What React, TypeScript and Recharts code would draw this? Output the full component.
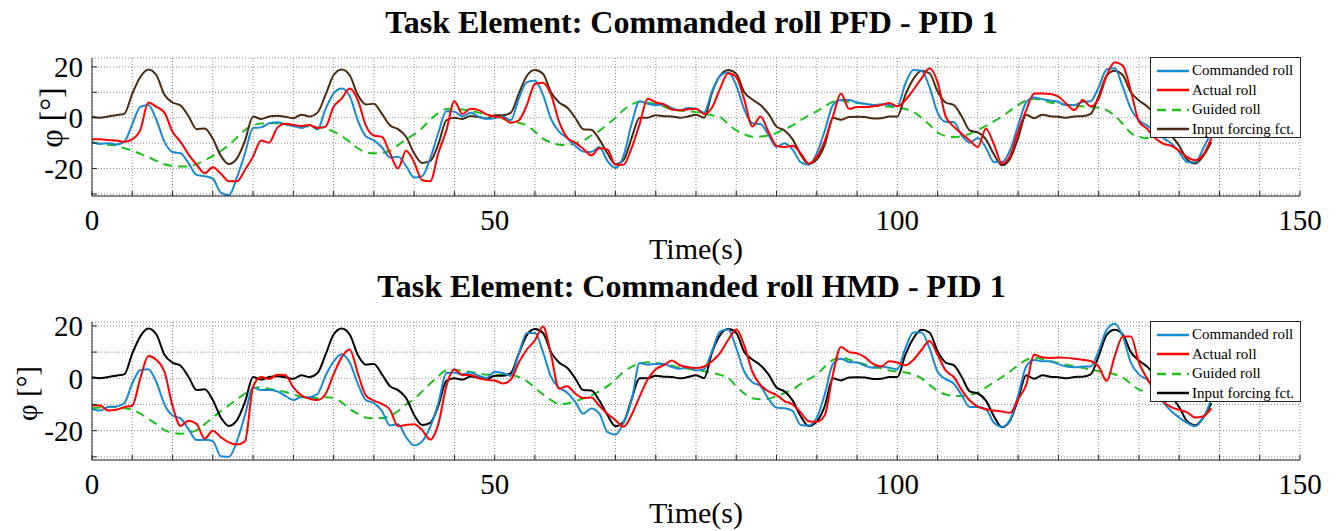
import { LineChart, Line, XAxis, YAxis, CartesianGrid, Legend } from "recharts";

const FONT = '"Liberation Serif", "Times New Roman", serif';

// samples every 1 s
const forcing = [
  0.4, 0, 0.5, 1, 1.5, 9.4, 16, 19, 16.7, 9,
  6, 4.8, 0.5, -4.5, -4.2, -8.3, -15, -18.2, -16, -9,
  0.5, -0.5, 0.5, 0.8, 0.4, -0.2, 1.2, 0.5, 2, 9,
  16.7, 19, 16.7, 9, 5.2, 5.5, 1.5, -3, -4.5, -7.5,
  -14, -17.8, -17, -10.5, -1, 0, -0.5, 0.7, 0.3, -0.3,
  1, 1, 2, 9.5, 16.5, 18.8, 17.3, 10, 6, 4,
  0, -4.5, -4.7, -8.5, -14, -18.3, -16.7, -8, 0, 0,
  1, 0.6, 0.5, 0, 0.5, 1.2, 0, 10, 16.6, 18.8,
  17.3, 10, 7.2, 5, 1.5, -3.5, -5, -8.5, -14.5, -18.2,
  -16.5, -10.5, 0, -0.8, 0.3, 0.4, 0.3, -0.3, -0.2, 0.5,
  0.5, 9, 15.3, 18.5, 17.5, 10.3, 6, 5, 0.5, -5,
  -5.8, -8.5, -14.5, -18.7, -16.1, -8, 1.2, -0.2, 1.2, 0.6,
  0.4, 0, 0.5, 0.6, 1.5, 8.5, 16.6, 18.5, 16.7, 10,
  6.8, 4.5, 1, -3, -7, -11, -16.5, -18, -15, -9.5,
];

const pfdCommanded = [
  -9.4, -10.3, -10, -10.5, -9.5, -2.5, 4.3, 5, -0.9, -9.5,
  -13.5, -14, -18, -22.5, -23, -24, -29.5, -30.5, -23.5, -14,
  -4, -3.8, -2.2, -1.8, -2.6, -3.3, -4, -2.9, -4.6, 3.5,
  9.5, 11.5, 8.5, -1, -7.3, -8.9, -11.6, -15.7, -15.4, -19,
  -23.5, -23, -16, -6, 2.5, 2.4, 0.5, 2, 0.5, -0.4,
  -0.2, 0.5, -1, 7.5, 14, 14.5, 9, -0.5, -5.5, -8,
  -11, -13.3, -13.5, -11.5, -17, -19.8, -15, -2.5, 6.5, 5.5,
  5, 5.2, 3.8, 3, 3.8, 3.5, 2, 10.5, 16.5, 17.9,
  12.7, 3.2, -2.2, -2.5, -6.8, -11.5, -10, -12.5, -17.5, -18.5,
  -14, -5, 5, 7, 7, 6, 5.5, 5, 5.3, 5,
  4.5, 13.5, 18.8, 18.5, 12, 2, -1.6, -1.7, -7, -9.8,
  -8, -11.8, -17.4, -17.4, -12.8, -3, 6, 8, 7.3, 6.8,
  6.2, 5, 5, 6.2, 6.5, 12, 19, 19.5, 12, 3.5,
  -1, -3, -5.5, -8, -10, -13.5, -17.5, -17.5, -12, -5.5,
];

const pfdActual = [
  -8.5, -8.5, -8.8, -9, -9.5, -8.5, -4.8, 6, 4.3, 2,
  -5.5, -9.5, -14.5, -18.5, -21.8, -19.5, -22, -25, -25, -20.5,
  -15.3, -9, -9.8, -4, -2.4, -2.8, -3.3, -2.9, -4, -3.5,
  4.3, 7.5, 11.5, 7, -3, -7, -7.5, -14, -20, -13,
  -17.5, -24.6, -25, -14, -5, 6.5, 1.5, 3.5, 3, 1.3,
  0.5, 0, -2, -1, 5, 13.3, 13.8, 9, -1.5, -7.8,
  -9.8, -12.2, -14.8, -12, -12.5, -18.5, -18.5, -12, -2.5, 7.5,
  6, 5.3, 3.2, 2.9, 3.3, 3.5, 1.5, 4, 11.5, 17.5,
  16, 7, -3.5, 0.5, -5.5, -11, -11.5, -11, -14, -18,
  -15.4, -9, 0.5, 9.5, 3.5, 4.2, 4.2, 4.5, 5, 5.8,
  4.5, 7, 11, 15.5, 19.5, 14, 0.5, -3.5, -6.3, -9,
  -11.5, -4.3, -10.5, -18, -15, -5.5, 3, 9.5, 9.5, 9.3,
  8.3, 5.5, 3, 7, 4.5, 7.5, 16.6, 21.8, 20.5, 10.5,
  -1.5, -4.3, -8, -10.2, -11, -13, -15.5, -16.7, -14.5, -8,
];

const pfdGuided = [
  -9.8, -10.2, -10.6, -11, -12, -13, -14.2, -15.5, -17, -18.3,
  -18.9, -19.2, -19.2, -18.2, -16.8, -15, -13, -10.8, -7.8, -4.8,
  -3, -2.3, -2.2, -2.2, -2.6, -3, -3.3, -3.5, -3.8, -4.2,
  -5.5, -7.2, -9.5, -12, -13.6, -14, -13.8, -13, -10.8, -8.5,
  -6.5, -4, -0.8, 1.8, 3.4, 3.5, 3.2, 2.6, 2, 1.2,
  0.5, -0.4, -1.1, -2, -3, -5.5, -8.2, -9.8, -10.6, -10.8,
  -10, -9, -7, -5.2, -2.6, 0, 3, 5.2, 6.3, 6,
  5.3, 4.4, 3.3, 2.8, 2.5, 2.2, 1.6, 1, 0.3, -2.5,
  -5, -6.5, -7.5, -7.4, -7, -6, -4.5, -3, -1, 1,
  2.5, 4.5, 6.3, 6.8, 6.2, 5.8, 5.5, 5, 4.6, 4.3,
  4, 3.4, 2.2, 0, -2.8, -5.8, -7.2, -7.6, -7.2, -6.3,
  -4.8, -3.2, -1.4, 0.5, 2.8, 5, 6.8, 7.5, 7, 6,
  5.5, 5, 4.8, 4.5, 4.2, 4, 3, 0.8, -2.5, -6,
  -7.5, -8, -8,
];

const hmdCommanded = [
  -11.7, -12.3, -11, -10.8, -9.5, -2, 3.2, 3.5, -1.5, -10,
  -14.2, -15.3, -19.5, -23.6, -23.5, -24, -29.8, -30, -24, -14,
  -3.5, -4.5, -4.5, -5, -6.7, -8.3, -7.2, -7.2, -6, 1,
  6.4, 9.2, 6, -2, -8.3, -9.5, -12.5, -18, -17.5, -22.5,
  -25.6, -24, -18.5, -9.5, 2, 2.2, 1.5, 2.2, 1, 0.1,
  2.5, 2, 1, 9.5, 17.3, 17.3, 10, 0.5, -3.5, -5.5,
  -9, -13.5, -11.5, -13.5, -20.5, -21.5, -17, -8.5, 5.8, 5.2,
  5.5, 5.5, 4.3, 3.6, 4.2, 3, 3.5, 10.5, 17.9, 18.6,
  11.5, 2.5, -1.5, -3, -7.8, -11.2, -11.4, -12.5, -17.8, -18,
  -15.1, -6, 5.5, 7.5, 6.2, 6, 4.8, 4, 4.5, 4,
  3.5, 11.5, 17.5, 17.5, 11.5, 2.5, -0.3, -2, -6.5, -11,
  -11, -11.8, -17, -18.5, -15.8, -6.5, 4.5, 7, 6.5, 6.5,
  5.4, 4.5, 4.2, 4.5, 4.5, 10.5, 18.5, 20.8, 16, 6,
  1.5, -0.5, -4, -9, -12.5, -15, -17, -18.3, -15, -8,
];

const hmdActual = [
  -10.4, -10.4, -12.3, -12, -11, -10.5, 0, 8.5, 7, 2.5,
  -10.5, -18.2, -16.2, -17.5, -23, -20, -22.5, -24.5, -25.3, -24,
  -3.2, 0.5, -0.3, 1.4, 1.3, -3.5, -6.5, -7.8, -8.3, -6,
  1.5, 8, 11, 2, -6.5, -8.5, -9.8, -12, -18.3, -17.8,
  -17.5, -19.8, -23.4, -17.5, -3, 3.5, 1.2, 1.3, 0, -0.6,
  -0.8, -2, -0.5, 6, 11, 14.5, 19.8, 9, -4, -3,
  -5.8, -7.5, -7.3, -10.5, -13.5, -16, -18.5, -14, -7, -0.5,
  3.5, 5, 6.8, 5, 4.2, 3.9, 4.5, 6.5, 9.7, 14.7,
  18.6, 12.5, 2.5, -2.5, -5, -6.4, -8.7, -10, -13, -16.4,
  -16.6, -14, 1.5, 12, 10, 9.5, 8, 5.5, 4.5, 6.5,
  6, 5, 7.1, 10.8, 14.2, 9, 3, 0.5, -4.5, -8.5,
  -10.8, -11.8, -12.3, -12.7, -13.2, -8, -2.5, 9, 8, 7.8,
  7.9, 7.8, 7.5, 7.1, 6.6, 4.5, -1, 8.5, 16, 16,
  6, 0, -5, -8.8, -11, -12, -13, -15, -14.5, -11.5,
];

const hmdGuided = [
  -11.4, -11.2, -10.9, -11, -11.4, -12, -13.5, -15.5, -17.5, -19.8,
  -20.8, -21.2, -20.8, -19.8, -17.5, -15, -12.5, -10.3, -8, -5.8,
  -3.8, -3.4, -4, -4.6, -5.2, -6.2, -7.1, -7.4, -7.5, -7.2,
  -7.5, -9.2, -11.7, -13.5, -15, -15.3, -15.2, -14.4, -12.5, -10,
  -7.8, -5, -2, 0.8, 3, 3.2, 2.9, 2.4, 1.9, 1.4,
  1.4, 1.4, 1.3, 0.5, -1.1, -3.6, -6.2, -8.3, -9.9, -9.6,
  -8.8, -7.6, -6.5, -5, -3, -0.5, 2.5, 4.4, 5.6, 6.1,
  5.9, 5.5, 4.8, 4.1, 3.6, 3.2, 2.7, 2.1, 1.3, 0.2,
  -3, -5.8, -7.6, -8, -7.8, -6.8, -5.6, -4.3, -2.1, -0.3,
  1.4, 4.5, 7, 8, 7.2, 6.2, 5.3, 4.5, 3.8, 3,
  2.6, 2.2, 1.5, 0, -2.5, -4.8, -6.2, -6.7, -6.8, -6.3,
  -5.5, -3.5, -1.5, 0.5, 2.6, 5, 7, 7.8, 7.4, 6.5,
  5.8, 5.2, 4.6, 4, 3.3, 2.7, 2.3, 1.5, 0.3, -2,
  -4.3, -5,
];

const xTicks = [0, 5, 10, 15, 20, 25, 30, 35, 40, 45, 50, 55, 60, 65, 70, 75, 80, 85, 90, 95, 100, 105, 110, 115, 120, 125, 130, 135, 140, 145, 150];
const xLabels = [0, 50, 100, 150];
const yTicks = [-30, -20, -10, 0, 10, 20];
const yLabels = [-20, 0, 20];

const SAMPLE_STEP = 1; // seconds

const COLORS = {
  commanded: "#1a8ad0",
  actual: "#ff0000",
  guided: "#1fbf1f",
  forcingPfd: "#4a2a12",
  forcingHmd: "#000000",
};

function buildRows(cmd: number[], act: number[], guide: number[]) {
  return forcing.map((f, i) => ({
    t: i * SAMPLE_STEP,
    cmd: cmd[i],
    act: act[i],
    guide: guide[i],
    force: f,
  }));
}

const pfdRows = buildRows(pfdCommanded, pfdActual, pfdGuided);
const hmdRows = buildRows(hmdCommanded, hmdActual, hmdGuided);

function LegendBox({ forceColor }: { forceColor: string }) {
  const items = [
    { name: "Commanded roll", color: COLORS.commanded, dash: undefined },
    { name: "Actual roll", color: COLORS.actual, dash: undefined },
    { name: "Guided roll", color: COLORS.guided, dash: "9 6" },
    { name: "Input forcing fct.", color: forceColor, dash: undefined },
  ];
  return (
    <div
      style={{
        boxSizing: "border-box",
        width: 151,
        height: 81,
        border: "1px solid #222",
        background: "#fff",
        paddingTop: 3,
        fontFamily: FONT,
        fontSize: 15,
        color: "#000",
      }}
    >
      {items.map((it) => (
        <div key={it.name} style={{ display: "flex", alignItems: "center", height: 19.5, whiteSpace: "nowrap" }}>
          <svg width={41} height={10} style={{ flex: "none" }}>
            <line x1={6} x2={38} y1={5} y2={5} stroke={it.color} strokeWidth={2.5} strokeDasharray={it.dash} />
          </svg>
          <span>{it.name}</span>
        </div>
      ))}
    </div>
  );
}

interface PanelProps {
  rows: any[];
  height: number;
  plotTop: number;
  plotBottom: number;
  domain: [number, number];
  forceColor: string;
  yLabelX: number;
  yLabelY: number;
  yLabelSize: number;
}

function Panel({ rows, height, plotTop, plotBottom, domain, forceColor, yLabelX, yLabelY, yLabelSize }: PanelProps) {
  const axisColor = "#262626";
  const tickFont = { fontSize: 29, fill: "#000", fontFamily: FONT };
  return (
    <LineChart width={1339} height={height} data={rows} margin={{ top: plotTop, right: 39, bottom: 0, left: 0 }}>
      <CartesianGrid stroke="#8c8c8c" strokeDasharray="1 2" />
      <XAxis
        dataKey="t"
        type="number"
        domain={[0, 150]}
        ticks={xTicks}
        interval={0}
        height={height - plotBottom}
        tickSize={-5}
        tickMargin={18}
        tick={tickFont}
        tickFormatter={(v: number) => (xLabels.includes(v) ? String(v) : "")}
        stroke={axisColor}
        label={{
          content: () => (
            <text x={696} y={plotBottom + 63} textAnchor="middle" fontFamily={FONT} fontSize={30} fill="#000">
              Time(s)
            </text>
          ),
        }}
      />
      <XAxis
        xAxisId="top"
        orientation="top"
        dataKey="t"
        type="number"
        domain={[0, 150]}
        ticks={xTicks}
        interval={0}
        height={0}
        tickSize={-5}
        tick={false}
        stroke={axisColor}
      />
      <YAxis
        type="number"
        domain={domain}
        allowDataOverflow
        ticks={yTicks}
        interval={0}
        width={92}
        tickSize={-5}
        tickMargin={14}
        tick={tickFont}
        tickFormatter={(v: number) => (yLabels.includes(v) ? String(v) : "")}
        stroke={axisColor}
        label={{
          content: () => (
            <text
              x={yLabelX}
              y={yLabelY}
              transform={`rotate(-90 ${yLabelX} ${yLabelY})`}
              textAnchor="middle"
              dominantBaseline="central"
              fontFamily={FONT}
              fontSize={yLabelSize}
              fill="#000"
            >
              φ [°]
            </text>
          ),
        }}
      />
      <YAxis
        yAxisId="right"
        orientation="right"
        type="number"
        domain={domain}
        allowDataOverflow
        ticks={yTicks}
        interval={0}
        width={0}
        tickSize={-5}
        tick={false}
        stroke={axisColor}
      />
      <Line type="monotone" dataKey="guide" stroke={COLORS.guided} strokeWidth={2} strokeDasharray="9 6" dot={false} activeDot={false} isAnimationActive={false} />
      <Line type="monotone" dataKey="force" stroke={forceColor} strokeWidth={2} dot={false} activeDot={false} isAnimationActive={false} />
      <Line type="monotone" dataKey="cmd" stroke={COLORS.commanded} strokeWidth={2} dot={false} activeDot={false} isAnimationActive={false} />
      <Line type="monotone" dataKey="act" stroke={COLORS.actual} strokeWidth={2} dot={false} activeDot={false} isAnimationActive={false} />
      <Legend
        layout="vertical"
        align="center"
        verticalAlign="middle"
        wrapperStyle={{ left: 1150, top: plotTop - 1, width: 151, height: 81 }}
        content={() => <LegendBox forceColor={forceColor} />}
      />
    </LineChart>
  );
}

const titleStyle = (top: number): React.CSSProperties => ({
  position: "absolute",
  top,
  left: 0,
  width: 1383,
  textAlign: "center",
  fontFamily: FONT,
  fontWeight: "bold",
  fontSize: 32,
  lineHeight: "32px",
  color: "#000",
  whiteSpace: "nowrap",
});

export default function App() {
  return (
    <div style={{ position: "fixed", left: 0, top: 0, width: 1339, height: 531, background: "#fff", overflow: "hidden" }}>
      <div style={{ position: "absolute", left: 0, top: 0 }}>
        <Panel
          rows={pfdRows}
          height={265}
          plotTop={58}
          plotBottom={196}
          domain={[-30.8, 23.5]}
          forceColor={COLORS.forcingPfd}
          yLabelX={51}
          yLabelY={117.5}
          yLabelSize={32}
        />
      </div>
      <div style={{ position: "absolute", left: 0, top: 265 }}>
        <Panel
          rows={hmdRows}
          height={266}
          plotTop={57}
          plotBottom={195}
          domain={[-31.2, 21.5]}
          forceColor={COLORS.forcingHmd}
          yLabelX={27}
          yLabelY={128.5}
          yLabelSize={29}
        />
      </div>
      <div style={titleStyle(6)}>Task Element: Commanded roll PFD - PID 1</div>
      <div style={titleStyle(270)}>Task Element: Commanded roll HMD - PID 1</div>
    </div>
  );
}
